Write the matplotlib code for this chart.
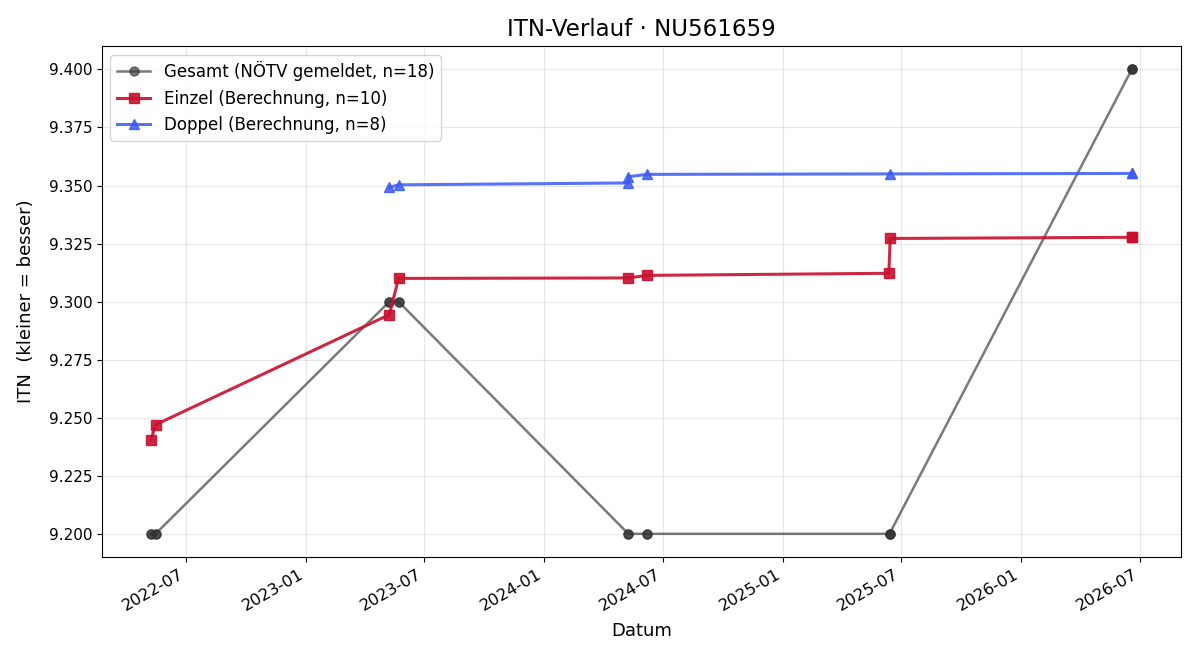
import pandas as pd
import matplotlib.pyplot as plt
import matplotlib.dates as mdates

# Gesamt (reported ITN), several entries share a date
gesamt_dates = ["2022-05-09", "2022-05-09", "2022-05-16", "2022-05-16",
                "2023-05-09", "2023-05-09", "2023-05-23", "2023-05-23",
                "2024-05-09", "2024-05-09", "2024-06-07", "2024-06-07",
                "2025-06-13", "2025-06-13", "2025-06-13",
                "2026-06-19", "2026-06-19", "2026-06-19"]
gesamt_itn = [9.200, 9.200, 9.200, 9.200,
              9.300, 9.300, 9.300, 9.300,
              9.200, 9.200, 9.200, 9.200,
              9.200, 9.200, 9.200,
              9.400, 9.400, 9.400]

einzel_dates = ["2022-05-09", "2022-05-16", "2023-05-09", "2023-05-23",
                "2024-05-09", "2024-06-07", "2025-06-12", "2025-06-14",
                "2026-06-19", "2026-06-19"]
einzel_itn = [9.2405, 9.2470, 9.2944, 9.3100,
              9.3102, 9.3113, 9.3122, 9.3272,
              9.3277, 9.3277]

doppel_dates = ["2023-05-09", "2023-05-23", "2024-05-09", "2024-05-09",
                "2024-06-07", "2025-06-13", "2026-06-19", "2026-06-19"]
doppel_itn = [9.3492, 9.3503, 9.3511, 9.3538,
              9.3548, 9.3550, 9.3552, 9.3552]


def plot_itn():
    fig, ax = plt.subplots(figsize=(12, 6.6), dpi=100)

    ax.plot(pd.to_datetime(gesamt_dates), gesamt_itn,
            label="Gesamt (NÖTV gemeldet, n=18)",
            color="#333333", alpha=0.65, marker="o", markersize=6.5, linewidth=1.8)
    ax.plot(pd.to_datetime(einzel_dates), einzel_itn,
            label="Einzel (Berechnung, n=10)",
            color="#C8102E", alpha=0.9, marker="s", markersize=7.5, linewidth=2.2)
    ax.plot(pd.to_datetime(doppel_dates), doppel_itn,
            label="Doppel (Berechnung, n=8)",
            color="#3A5BF5", alpha=0.85, marker="^", markersize=7.5, linewidth=2.2)

    ax.set_title("ITN-Verlauf · NU561659", fontsize=16.5, pad=7)
    ax.set_xlabel("Datum", fontsize=13, labelpad=6)
    ax.set_ylabel("ITN  (kleiner = besser)", fontsize=13, labelpad=10)
    ax.yaxis.set_major_formatter(plt.FormatStrFormatter("%.3f"))
    ax.xaxis.set_major_locator(mdates.MonthLocator(bymonth=[1, 7]))
    ax.xaxis.set_major_formatter(mdates.DateFormatter("%Y-%m"))
    ax.tick_params(axis="y", labelsize=11)
    ax.tick_params(axis="x", labelsize=11.7)
    ax.grid(True, alpha=0.3)
    ax.legend(loc="upper left", fontsize=12)
    fig.autofmt_xdate()
    fig.subplots_adjust(left=0.085, right=0.984, top=0.930, bottom=0.156)
    fig.savefig("out.png")


plot_itn()
